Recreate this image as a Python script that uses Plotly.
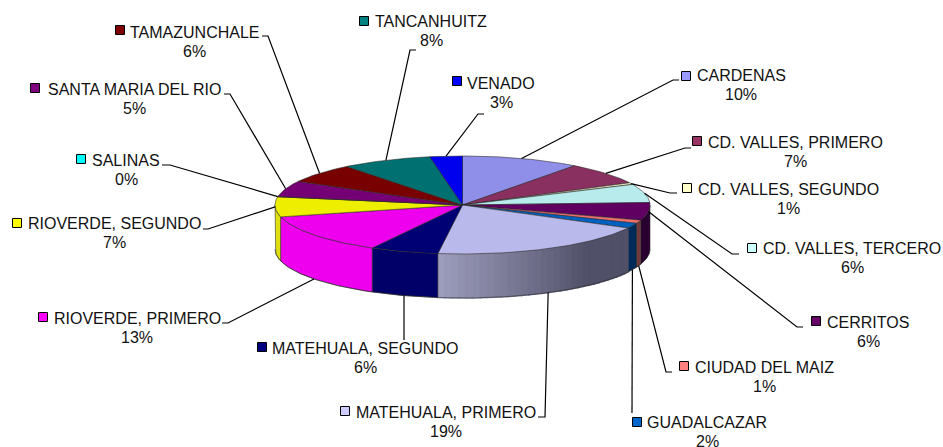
import math
import numpy as np
import plotly.graph_objects as go

# ---- data ----
names = ["CARDENAS", "CD. VALLES, PRIMERO", "CD. VALLES, SEGUNDO", "CD. VALLES, TERCERO",
         "CERRITOS", "CIUDAD DEL MAIZ", "GUADALCAZAR", "MATEHUALA, PRIMERO",
         "MATEHUALA, SEGUNDO", "RIOVERDE, PRIMERO", "RIOVERDE, SEGUNDO", "SALINAS",
         "SANTA MARIA DEL RIO", "TAMAZUNCHALE", "TANCANHUITZ", "VENADO"]
shares = [10.2, 7.3, 0.6, 6.1, 5.8, 1.1, 1.7, 19.3, 5.9, 13.1, 6.6, 0.1, 5.2, 6.4, 7.8, 2.8]

# ---- styles ----
top_colors = ["#8f8fe9", "#8a3060", "#eeeec0", "#b8ecec", "#600060", "#f07070", "#0060c0", "#b9b9ec",
              "#000075", "#ee00ee", "#eeee00", "#00eeee", "#750075", "#780000", "#007070", "#0000ee"]
side_colors = ["#8f8fe9", "#8a3060", "#eeeec0", "#b8ecec", "#2a0030", "#6e3a3c", "#002a58", None,
               "#000068", "#ee00ee", "#dede10", "#00eeee", "#750075", "#780000", "#007070", "#0000ee"]
key_colors = ["#9999FF", "#993366", "#FFFFCC", "#CCFFFF", "#660066", "#FF8080", "#0066CC", "#CCCCFF",
              "#000080", "#FF00FF", "#FFFF00", "#00FFFF", "#800080", "#800000", "#008080", "#0000FF"]

# ---- layout (pixels) ----
CX, CY, RX, RY, DEPTH = 462.5, 205.0, 187.5, 49.0, 44.0
label_xy = [(741, 75), (795, 142), (788, 189), (852, 248), (868, 322), (764, 367), (707, 422), (446, 412),
            (365, 348), (137, 318), (114, 223), (126, 160), (134, 89), (194.5, 32), (431, 21), (501, 83)]
key_xy = [(686, 76), (697, 141), (687, 188), (752, 248), (816, 321), (684, 366), (637, 422), (345, 411),
          (262, 347), (43, 317), (17, 223), (81, 159), (35, 88), (120, 30), (364, 21), (457, 81)]
elbows = [[(673, 80), (679, 80)], [(685, 148), (691, 148)], [(670, 193), (677, 193)], [(732, 254), (739, 254)],
          [(797, 327), (803, 327)], [(666, 372), (672, 372)], [(632, 413)], [(545, 417), (538, 417)],
          [(404, 340)], [(228, 323), (222, 323)], [(208, 229), (203, 229)], [(170, 165), (162, 165)],
          [(230, 94), (224, 94)], [(268, 36), (262, 36)], [(410, 50), (416, 50)], [(478, 114), (484, 114)]]

EDGE = "rgba(40,40,40,0.8)"
total = sum(shares)
fracs = np.cumsum([0.0] + shares) / total * 2 * np.pi


def ex(t):
    return CX + RX * np.sin(t)


def ey(t):
    return CY - RY * np.cos(t)


fig = go.Figure()


def poly(xs, ys, color, edge=EDGE, lw=0.7):
    fig.add_trace(go.Scatter(x=list(xs), y=list(ys), mode="lines", fill="toself", fillcolor=color,
                             line=dict(color=edge, width=lw), hoverinfo="skip", showlegend=False))


def side_poly(a, b, color, edge=EDGE, lw=0.7):
    t = np.linspace(a, b, max(2, int((b - a) / 0.02)))
    xs = np.concatenate([ex(t), ex(t[::-1])])
    ys = np.concatenate([ey(t), ey(t[::-1]) + DEPTH])
    poly(np.append(xs, xs[0]), np.append(ys, ys[0]), color, edge, lw)


# side walls (front half of the disc only)
for i in range(len(shares)):
    a, b = max(fracs[i], np.pi / 2), min(fracs[i + 1], 3 * np.pi / 2)
    if a >= b:
        continue
    if side_colors[i] is None:
        # metallic gradient on the largest slice's wall
        stops_t = np.linspace(b, a, 33)
        for j in range(32):
            u = j / 31
            lvl = 1 - min(u / 0.72, 1)
            r = int(0x50 + (0x9c - 0x50) * lvl)
            g = int(0x50 + (0x9c - 0x50) * lvl)
            bl = int(0x68 + (0xbc - 0x68) * lvl)
            c = f"rgb({r},{g},{bl})"
            side_poly(stops_t[j + 1], stops_t[j], c, c, 1.5)
    else:
        side_poly(a, b, side_colors[i])
# thin outline of the lower rim
t_rim = np.linspace(np.pi / 2, 3 * np.pi / 2, 160)
fig.add_trace(go.Scatter(x=ex(t_rim), y=ey(t_rim) + DEPTH, mode="lines",
                         line=dict(color=EDGE, width=0.7), hoverinfo="skip", showlegend=False))

# top faces
for i in range(len(shares)):
    t = np.linspace(fracs[i], fracs[i + 1], max(3, int((fracs[i + 1] - fracs[i]) / 0.02)))
    poly(np.concatenate([[CX], ex(t), [CX]]), np.concatenate([[CY], ey(t), [CY]]), top_colors[i])

# leader lines, labels and keys
for i, name in enumerate(names):
    mid = (fracs[i] + fracs[i + 1]) / 2
    ax0, ay0 = float(ex(mid)), float(ey(mid))
    if math.cos(mid) < -0.2:
        ay0 += DEPTH
    pts = [(ax0, ay0)] + elbows[i]
    fig.add_trace(go.Scatter(x=[p[0] for p in pts], y=[p[1] for p in pts], mode="lines",
                             line=dict(color="black", width=1.2), hoverinfo="skip", showlegend=False))
    fig.add_trace(go.Scatter(x=[key_xy[i][0]], y=[key_xy[i][1]], mode="markers",
                             marker=dict(symbol="square", size=9, color=key_colors[i],
                                         line=dict(color="black", width=1)),
                             hoverinfo="skip", showlegend=False))
    lx, ly = label_xy[i]
    pct = round(shares[i] / total * 100)
    for text, yy in ((name, ly), (f"{pct}%", ly + 19)):
        fig.add_annotation(x=lx, y=yy, text=text, showarrow=False, xanchor="center", yanchor="middle",
                           font=dict(family="Liberation Sans, Arial, sans-serif", size=16, color="#111111"))

fig.update_layout(width=943, height=447, margin=dict(l=0, r=0, t=0, b=0), paper_bgcolor="white",
                  plot_bgcolor="white", showlegend=False,
                  xaxis=dict(range=[0, 943], visible=False, fixedrange=True),
                  yaxis=dict(range=[447, 0], visible=False, fixedrange=True))
fig.write_html("out.html", config={"displayModeBar": False},
               post_script="document.body.style.margin='0';document.documentElement.style.overflow='hidden';")
